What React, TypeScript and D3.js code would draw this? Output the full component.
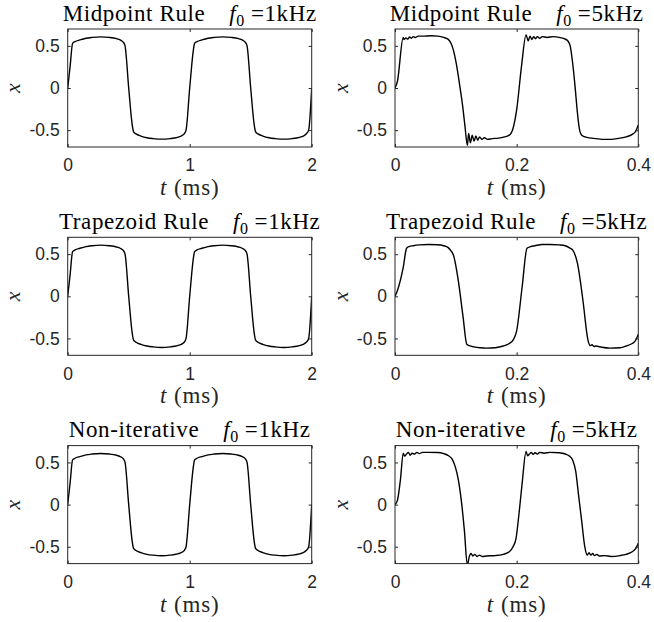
import React, { useEffect, useRef } from 'react';
import * as d3 from 'd3';

const W = 654;
const H = 622;

// row titles and column frequencies
const methods = ['Midpoint Rule', 'Trapezoid Rule', 'Non-iterative'];
const freqs = ['1kHz', '5kHz'];
const tDomains = [[0, 2], [0, 0.4]];
const tTicks = [[0, 1, 2], [0, 0.2, 0.4]];
const xTicks = [-0.5, 0, 0.5];

// [t (ms), x]; the three 1 kHz traces look the same
const wave1k = [
  [0, 0], [0.02, 0.26], [0.04, 0.53], [0.06, 0.55], [0.1, 0.57], [0.15, 0.59],
  [0.2, 0.6], [0.27, 0.607], [0.34, 0.6], [0.4, 0.585], [0.43, 0.57], [0.455, 0.545],
  [0.47, 0.5], [0.5, 0.0], [0.53, -0.45], [0.54, -0.52], [0.56, -0.545], [0.6, -0.57],
  [0.65, -0.59], [0.7, -0.6], [0.77, -0.607], [0.84, -0.6], [0.9, -0.585], [0.93, -0.57],
  [0.955, -0.545], [0.97, -0.5], [1.0, 0.0], [1.03, 0.45], [1.04, 0.53], [1.06, 0.55],
  [1.1, 0.57], [1.15, 0.59], [1.2, 0.6], [1.27, 0.607], [1.34, 0.6], [1.4, 0.585],
  [1.43, 0.57], [1.455, 0.545], [1.47, 0.5], [1.5, 0.0], [1.53, -0.45], [1.54, -0.52],
  [1.56, -0.545], [1.6, -0.57], [1.65, -0.59], [1.7, -0.6], [1.77, -0.607], [1.84, -0.6],
  [1.9, -0.585], [1.93, -0.57], [1.955, -0.545], [1.975, -0.5], [2.0, 0.0],
];
const midpoint1k = wave1k;
const trapezoid1k = wave1k;
const nonIter1k = wave1k;

const midpoint5k = [
  [0, 0], [0.004, 0.08], [0.0135, 0.6], [0.015, 0.575], [0.018, 0.595], [0.021, 0.58],
  [0.024, 0.605], [0.027, 0.59], [0.03, 0.61], [0.034, 0.6], [0.038, 0.615], [0.045, 0.615],
  [0.06, 0.62], [0.07, 0.615], [0.08, 0.6], [0.087, 0.58], [0.092, 0.53], [0.096, 0.45],
  [0.101, 0.28], [0.106, 0.05], [0.111, -0.2], [0.115, -0.45], [0.119, -0.68], [0.121, -0.54],
  [0.124, -0.65], [0.127, -0.56], [0.13, -0.63], [0.133, -0.57], [0.136, -0.62], [0.139, -0.58],
  [0.143, -0.61], [0.147, -0.59], [0.152, -0.61], [0.16, -0.6], [0.17, -0.595], [0.18, -0.58],
  [0.188, -0.56], [0.194, -0.48], [0.2, -0.26], [0.208, 0.26], [0.2155, 0.63], [0.219, 0.56],
  [0.222, 0.615], [0.225, 0.575], [0.228, 0.61], [0.231, 0.585], [0.234, 0.61], [0.238, 0.59],
  [0.242, 0.61], [0.25, 0.6], [0.26, 0.61], [0.27, 0.6], [0.278, 0.585], [0.284, 0.56],
  [0.288, 0.5], [0.292, 0.3], [0.296, 0.02], [0.3, -0.3], [0.303, -0.48], [0.307, -0.56],
  [0.315, -0.585], [0.33, -0.6], [0.35, -0.61], [0.365, -0.6], [0.38, -0.58], [0.39, -0.55],
  [0.396, -0.51], [0.4, -0.44],
];

const trapezoid5k = [
  [0, 0], [0.004, 0.07], [0.0137, 0.35], [0.019, 0.57], [0.023, 0.59], [0.03, 0.6],
  [0.04, 0.61], [0.055, 0.615], [0.07, 0.612], [0.08, 0.6], [0.087, 0.58], [0.092, 0.54],
  [0.096, 0.49], [0.104, 0.19], [0.112, -0.25], [0.118, -0.57], [0.122, -0.585], [0.13, -0.6],
  [0.14, -0.61], [0.15, -0.615], [0.165, -0.61], [0.178, -0.59], [0.188, -0.56], [0.194, -0.52],
  [0.2, -0.41], [0.209, 0.11], [0.217, 0.57], [0.223, 0.59], [0.23, 0.6], [0.242, 0.615],
  [0.255, 0.615], [0.27, 0.61], [0.28, 0.6], [0.287, 0.575], [0.292, 0.55], [0.3, 0.39],
  [0.309, -0.05], [0.317, -0.51], [0.321, -0.585], [0.324, -0.575], [0.327, -0.595], [0.33, -0.59],
  [0.34, -0.605], [0.353, -0.615], [0.37, -0.61], [0.38, -0.59], [0.39, -0.56], [0.395, -0.53],
  [0.4, -0.45],
];

const nonIter5k = [
  [0, 0], [0.004, 0.05], [0.009, 0.3], [0.0135, 0.61], [0.016, 0.575], [0.019, 0.6],
  [0.022, 0.62], [0.025, 0.585], [0.028, 0.61], [0.032, 0.6], [0.036, 0.62], [0.04, 0.605],
  [0.045, 0.62], [0.055, 0.62], [0.07, 0.618], [0.08, 0.605], [0.088, 0.58], [0.094, 0.54],
  [0.099, 0.45], [0.104, 0.3], [0.109, 0.05], [0.114, -0.3], [0.119, -0.72], [0.122, -0.62],
  [0.125, -0.58], [0.128, -0.61], [0.131, -0.59], [0.135, -0.615], [0.139, -0.6], [0.143, -0.615],
  [0.15, -0.61], [0.165, -0.605], [0.178, -0.59], [0.188, -0.56], [0.194, -0.5], [0.199, -0.4],
  [0.204, -0.1], [0.209, 0.25], [0.2155, 0.63], [0.218, 0.58], [0.221, 0.6], [0.224, 0.62],
  [0.227, 0.595], [0.23, 0.615], [0.234, 0.6], [0.238, 0.62], [0.245, 0.61], [0.255, 0.62],
  [0.27, 0.615], [0.28, 0.6], [0.287, 0.575], [0.292, 0.53], [0.297, 0.4], [0.302, 0.1],
  [0.307, -0.2], [0.312, -0.5], [0.316, -0.6], [0.319, -0.57], [0.322, -0.6], [0.325, -0.58],
  [0.328, -0.605], [0.332, -0.59], [0.336, -0.61], [0.345, -0.605], [0.355, -0.615], [0.37, -0.605],
  [0.38, -0.59], [0.39, -0.56], [0.396, -0.52], [0.4, -0.46],
];

const series = [
  [midpoint1k, midpoint5k],
  [trapezoid1k, trapezoid5k],
  [nonIter1k, nonIter5k],
];

// axes placement
const colX = [67.7, 395];
const colW = [244, 243.3];
const rowY = [29, 237.3, 445.6];
const axH = 118;

const SANS = 'Liberation Sans, Arial, Helvetica, sans-serif';
const SERIF = 'Liberation Serif, Times New Roman, serif';
const AX = '#262626';

export default function App() {
  const ref = useRef<SVGSVGElement>(null);

  useEffect(() => {
    const svg = d3.select(ref.current);
    svg.selectAll('*').remove();
    svg.append('rect').attr('width', W).attr('height', H).attr('fill', '#fff');

    methods.forEach((method, r) => {
      freqs.forEach((freq, c) => {
        const w = colW[c];
        const x = d3.scaleLinear().domain(tDomains[c]).range([0, w]);
        const y = d3.scaleLinear().domain([-0.7, 0.7]).range([axH, 0]);
        const g = svg.append('g').attr('transform', `translate(${colX[c]},${rowY[r]})`);

        const clipId = `clip-${r}-${c}`;
        g.append('clipPath').attr('id', clipId)
          .append('rect').attr('width', w).attr('height', axH);

        // 波形
        const line = d3.line<number[]>()
          .x((d) => x(d[0]))
          .y((d) => y(d[1]))
          .curve(d3.curveMonotoneX);
        g.append('path')
          .datum(series[r][c])
          .attr('d', line)
          .attr('fill', 'none')
          .attr('stroke', '#000')
          .attr('stroke-width', 1.4)
          .attr('stroke-linejoin', 'round')
          .attr('clip-path', `url(#${clipId})`);

        // 坐标轴 (ticks point inward, MATLAB style)
        const styleAxis = (sel) => {
          sel.select('.domain').remove();
          sel.selectAll('line').attr('stroke', AX);
          sel.selectAll('text')
            .attr('fill', AX)
            .style('font-family', SANS)
            .style('font-size', '17.5px');
        };
        g.append('g')
          .call(d3.axisLeft(y).tickValues(xTicks).tickSize(-3).tickPadding(8).tickFormat((d) => String(d)))
          .call(styleAxis);
        g.append('g').attr('transform', `translate(${w},0)`)
          .call(d3.axisRight(y).tickValues(xTicks).tickSize(-3).tickFormat(() => ''))
          .call(styleAxis);
        g.append('g').attr('transform', `translate(0,${axH})`)
          .call(d3.axisBottom(x).tickValues(tTicks[c]).tickSize(-3).tickPadding(12).tickFormat((d) => String(d)))
          .call(styleAxis);
        g.append('g')
          .call(d3.axisTop(x).tickValues(tTicks[c]).tickSize(-3).tickFormat(() => ''))
          .call(styleAxis);

        g.append('rect')
          .attr('width', w)
          .attr('height', axH)
          .attr('fill', 'none')
          .attr('stroke', AX)
          .attr('stroke-width', 1);

        // title
        const title = g.append('text')
          .attr('x', w / 2)
          .attr('y', -8.5)
          .attr('text-anchor', 'middle')
          .attr('fill', '#000')
          .style('font-family', SERIF)
          .style('font-size', '23px')
          .style('letter-spacing', '0.6px');
        title.append('tspan').text(method);
        title.append('tspan').attr('dx', 24).style('font-style', 'italic').text('f');
        title.append('tspan').attr('dy', 5).style('font-size', '16px').text('0');
        title.append('tspan').attr('dy', -5).attr('dx', 6).text('=' + freq);

        // xlabel
        const xl = g.append('text')
          .attr('x', w / 2)
          .attr('y', axH + 48)
          .attr('text-anchor', 'middle')
          .attr('fill', AX)
          .style('font-family', SERIF)
          .style('font-size', '23px')
          .style('letter-spacing', '0.8px');
        xl.append('tspan').style('font-style', 'italic').text('t');
        xl.append('tspan').attr('dx', 7).text('(ms)');

        // ylabel
        g.append('text')
          .attr('transform', `translate(-47.5,${axH / 2}) rotate(-90)`)
          .attr('text-anchor', 'middle')
          .attr('fill', AX)
          .style('font-family', SERIF)
          .style('font-size', '22px')
          .style('font-style', 'italic')
          .text('x');
      });
    });
  }, []);

  return (
    <svg
      ref={ref}
      width={W}
      height={H}
      style={{ position: 'absolute', left: 0, top: 0, display: 'block' }}
    />
  );
}
